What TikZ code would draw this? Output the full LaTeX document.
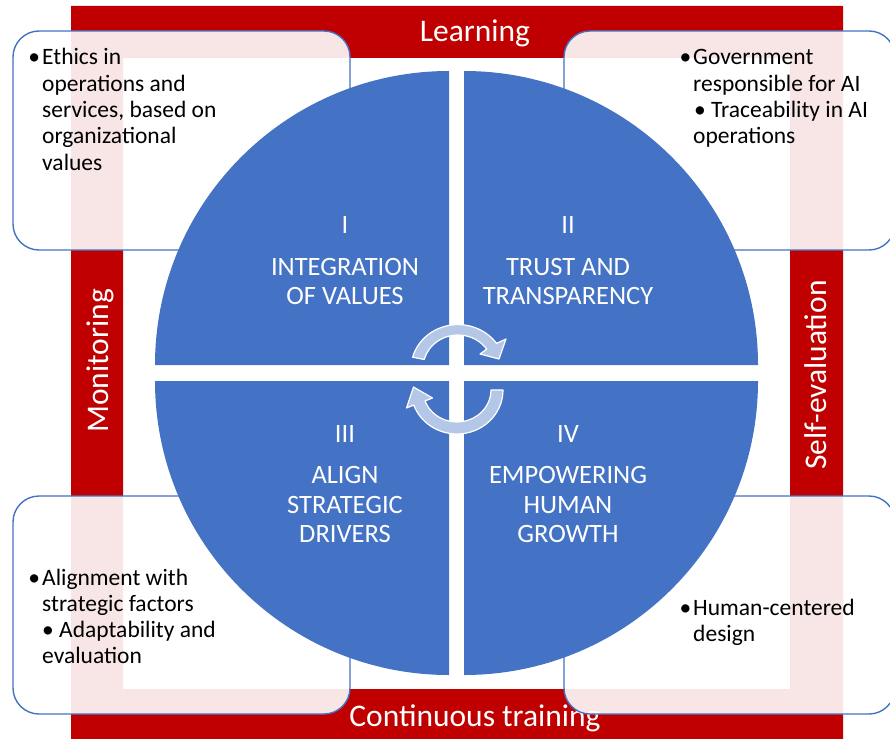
\documentclass[tikz,border=0pt]{standalone}
\usepackage{fontspec}
\setmainfont{Carlito}
\definecolor{frameRed}{HTML}{C00000}
\definecolor{pieBlue}{HTML}{4472C4}
\definecolor{arrowBlue}{HTML}{B4C7E7}
\begin{document}
\begin{tikzpicture}[x=1pt,y=-1pt,
  infobox/.style={fill=white, fill opacity=0.9, draw=pieBlue, line width=1.4pt, rounded corners=26pt},
  boxtext/.style={inner sep=0pt, anchor=base west, text=black, font=\fontsize{23.5}{26.3}\selectfont},
  bandtext/.style={inner sep=0pt, anchor=base, text=white, font=\fontsize{31.5}{36}\selectfont},
  quadtext/.style={inner sep=0pt, anchor=base, text=white, font=\fontsize{26.5}{29.5}\selectfont},
  pie/.style={fill=pieBlue},
  cyclearrow/.style={fill=arrowBlue, draw=white, line width=1.2pt, line join=round}]
\useasboundingbox (0,0) rectangle (890,738);
% red frame
\fill[frameRed, even odd rule] (71,6) rectangle (843,742) (123,58) rectangle (790,689);
% band labels
\node[bandtext] (learn) at (475,42) {Learning};
\node[bandtext, rotate=90] (monitor) at (108,361) {Monitoring};
\node[bandtext, rotate=90] (selfeval) at (826,375) {Self-evaluation};
\node[bandtext] (train) at (475,726) {Continuous training};
% info boxes
\path[infobox] (13,31) rectangle (350,250);
\path[infobox] (564,31) rectangle (895,250);
\path[infobox] (13,496) rectangle (350,714);
\path[infobox] (564,496) rectangle (895,714);
\node[boxtext] (tl) at (42,65) {\begin{tabular}[t]{@{}l@{}}\llap{•\hspace{2pt}}Ethics in\\operations and\\services, based on\\organizational\\values\end{tabular}};
\node[boxtext] (tr) at (693,65) {\begin{tabular}[t]{@{}l@{}}\llap{•\hspace{2pt}}Government\\responsible for AI\\\hspace{1pt}• Traceability in AI\\operations\end{tabular}};
\node[boxtext] (bl) at (42,585) {\begin{tabular}[t]{@{}l@{}}\llap{•\hspace{2pt}}Alignment with\\strategic factors\\• Adaptability and\\evaluation\end{tabular}};
\node[boxtext] (br) at (693,615) {\begin{tabular}[t]{@{}l@{}}\llap{•\hspace{2pt}}Human-centered\\design\end{tabular}};
% quadrants
\fill[pie] (449,365) -- (155,365) arc[start angle=180, end angle=270, radius=294] -- cycle;
\fill[pie] (464,365) -- (464,71) arc[start angle=270, end angle=360, radius=294] -- cycle;
\fill[pie] (464,381) -- (758,381) arc[start angle=0, end angle=90, radius=294] -- cycle;
\fill[pie] (449,381) -- (449,675) arc[start angle=90, end angle=180, radius=294] -- cycle;
% quadrant texts
\node[quadtext] (q1n) at (345,233) {I};
\node[quadtext] (q1a) at (345,275) {INTEGRATION};
\node[quadtext] (q1b) at (345,304) {OF VALUES};
\node[quadtext] (q2n) at (568,233) {II};
\node[quadtext] (q2a) at (568,275) {TRUST AND};
\node[quadtext] (q2b) at (568,304) {TRANSPARENCY};
\node[quadtext] (q3n) at (345,442) {III};
\node[quadtext] (q3a) at (345,483) {ALIGN};
\node[quadtext] (q3b) at (345,513) {STRATEGIC};
\node[quadtext] (q3c) at (345,542) {DRIVERS};
\node[quadtext] (q4n) at (568,442) {IV};
\node[quadtext] (q4a) at (568,483) {EMPOWERING};
\node[quadtext] (q4b) at (568,513) {HUMAN};
\node[quadtext] (q4c) at (568,542) {GROWTH};
% cycle arrows
\draw[cyclearrow] (412.6,357.2) arc[start angle=195, end angle=325, x radius=47, y radius=44]
  -- (506,339) -- (499,359) -- (480,354) -- (486.7,349.1)
  arc[start angle=325, end angle=195, x radius=35, y radius=33] -- cycle;
\draw[cyclearrow] (503,390) arc[start angle=0, end angle=160, x radius=46, y radius=44]
  -- (406.5,408) -- (413.5,387) -- (432.5,398) -- (425.05,400.9)
  arc[start angle=160, end angle=0, x radius=34, y radius=32] -- cycle;
\end{tikzpicture}
\end{document}
